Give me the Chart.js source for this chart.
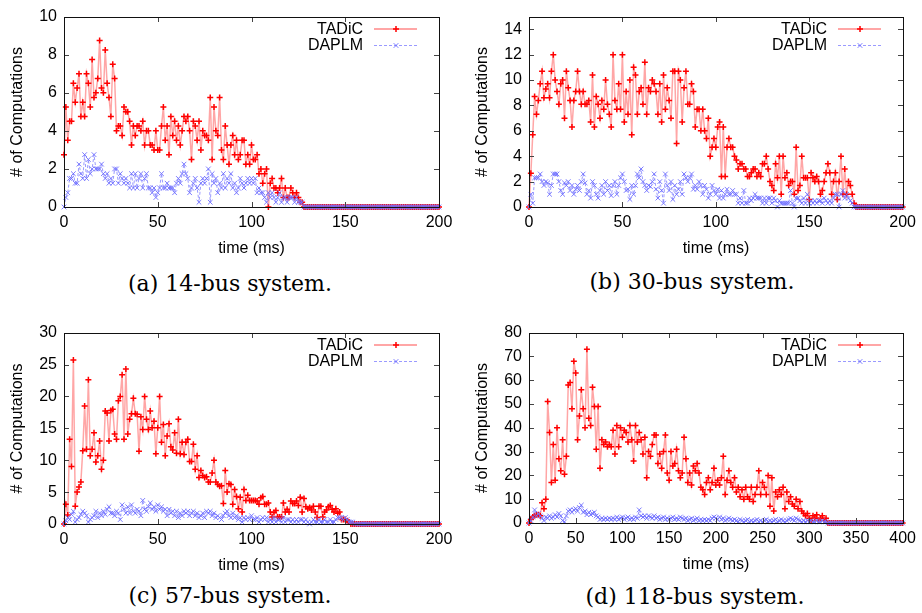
<!DOCTYPE html>
<html><head><meta charset="utf-8">
<script src="https://cdn.jsdelivr.net/npm/chart.js@4.4.1/dist/chart.umd.min.js"></script>
<style>
html,body{margin:0;padding:0;background:#fff;}
#page{position:relative;width:922px;height:613px;overflow:hidden;background:#fff;}
canvas{position:absolute;}
.cap{position:absolute;font-family:"DejaVu Serif",serif;font-size:22px;white-space:nowrap;transform:translate(-50%,-50%);color:#000;line-height:1;}
</style></head><body><div id="page">
<canvas id="ca"></canvas><canvas id="cb"></canvas><canvas id="cc"></canvas><canvas id="cd"></canvas>
<div class="cap" style="left:230px;top:284px">(a) 14-bus system.</div>
<div class="cap" style="left:692px;top:282px">(b) 30-bus system.</div>
<div class="cap" style="left:230px;top:596px">(c) 57-bus system.</div>
<div class="cap" style="left:695px;top:597px">(d) 118-bus system.</div>
</div>
<script>
// ---------------- DATA ----------------
const seriesNames = ["TADiC", "DAPLM"];
const xTitle = "time (ms)";
const yTitle = "# of Computations";
const xTicks200 = [0, 50, 100, 150, 200];
const xTicks400 = [0, 50, 100, 150, 200, 250, 300, 350, 400];
const yTicksA = [0, 2, 4, 6, 8, 10];
const yTicksB = [0, 2, 4, 6, 8, 10, 12, 14];
const yTicksC = [0, 5, 10, 15, 20, 25, 30];
const yTicksD = [0, 10, 20, 30, 40, 50, 60, 70, 80];
// sampling interval (ms) of each panel's series
const stepA = 1, stepB = 1, stepC = 1, stepD = 2;

// (a) 14-bus system, t = 0..200 ms
const tadicA = [
2.75,5.25,3.5,4.5,4.5,6.5,5.5,6.25,7.0,4.75,
5.5,4.75,7.0,6.5,5.25,7.75,5.75,6.0,6.75,8.75,
6.25,6.0,8.25,6.5,5.75,4.75,7.5,6.75,4.0,4.25,
4.25,3.75,5.25,5.0,5.0,4.5,3.25,4.25,3.75,4.25,
4.25,4.0,4.5,3.25,4.0,4.0,3.25,3.25,3.0,4.0,
3.0,3.0,4.25,5.25,3.5,4.25,2.75,4.75,3.75,4.5,
3.5,4.25,3.25,4.0,4.75,4.5,4.75,4.0,2.5,4.5,
4.25,3.5,4.5,3.0,4.0,3.75,3.75,3.5,5.75,2.5,
5.25,4.0,3.75,5.75,3.0,2.5,4.25,3.25,2.25,3.25,
3.75,2.75,3.5,2.5,2.75,3.5,3.5,2.25,2.75,2.25,
3.25,2.5,2.5,2.75,1.75,2.0,1.25,1.75,2.0,0,
1.25,1.5,1.0,1.0,0.75,1.0,1.5,0.5,1.0,0.5,
0.5,1.0,0.75,0.5,0.75,0.5,0.25,0.25,0,0,
0,0,0,0,0,0,0,0,0,0, 0,0,0,0,0,0,0,0,0,0, 0,0,0,0,0,0,0,0,0,0,
0,0,0,0,0,0,0,0,0,0, 0,0,0,0,0,0,0,0,0,0, 0,0,0,0,0,0,0,0,0,0,
0,0,0,0,0,0,0,0,0,0, 0];
const daplmA = [
0,0.5,0.75,1.5,1.5,1.75,1.25,1.25,2.25,1.75,
1.5,2.75,1.5,2.5,1.75,2.0,2.75,2.0,2.0,2.0,
2.25,1.75,1.5,1.75,1.25,1.5,1.25,2.0,2.0,1.25,
1.75,1.5,1.25,1.5,1.25,1.0,1.75,1.0,1.75,1.0,
1.5,1.75,1.0,1.5,1.75,1.0,1.0,0.75,1.0,0.5,
0.75,1.0,1.75,1.0,1.0,1.25,1.0,1.0,1.0,0.75,
1.25,1.5,1.25,1.75,2.25,1.75,1.5,0.75,1.0,1.25,
1.5,1.0,0.25,1.25,1.5,1.25,1.5,2.0,0.25,1.75,
1.25,1.5,0.75,1.25,1.0,1.75,1.0,1.5,1.25,1.75,
1.0,1.25,0.75,1.0,1.5,1.25,1.0,1.25,1.5,1.25,
1.5,1.25,1.5,0.75,1.0,0.75,0.75,0.5,0.25,0.75,
0.5,0.75,0.5,0.25,0.5,0.75,0.25,0.5,0.5,0.25,
0.5,0.5,0.5,0.25,0.5,0.25,0.25,0.25,0,0,
0,0,0,0,0,0,0,0,0,0, 0,0,0,0,0,0,0,0,0,0, 0,0,0,0,0,0,0,0,0,0,
0,0,0,0,0,0,0,0,0,0, 0,0,0,0,0,0,0,0,0,0, 0,0,0,0,0,0,0,0,0,0,
0,0,0,0,0,0,0,0,0,0, 0];

// (b) 30-bus system, t = 0..200 ms
const tadicB = [
0,2.65,5.7,8.7,7.3,8.4,9.7,10.7,8.6,9.3,
9.7,8.6,10.7,12.0,10.0,9.1,8.1,9.7,10.0,7.0,
10.7,9.4,8.4,6.3,8.4,9.1,10.7,9.1,8.1,9.1,
8.1,8.1,8.4,6.7,10.4,6.3,8.7,8.1,7.0,8.4,
7.7,10.0,8.1,7.3,6.3,12.0,8.4,7.7,9.7,7.7,
12.0,6.7,9.1,7.3,10.0,5.7,11.0,10.4,7.3,9.1,
9.4,8.1,11.4,7.3,9.4,9.1,10.0,9.7,9.1,7.3,
9.7,6.7,10.4,7.7,9.4,8.4,7.0,10.7,10.7,5.0,
10.7,10.0,6.7,9.4,10.7,8.1,8.1,9.7,9.1,6.3,
7.7,7.7,6.0,7.7,6.0,5.4,7.0,4.0,4.7,5.4,
4.7,6.3,6.7,2.4,6.3,2.4,4.7,5.4,4.7,4.7,
4.0,3.7,3.0,3.4,3.4,3.0,3.0,2.4,2.4,2.7,
3.0,3.0,2.4,2.7,2.4,3.4,3.4,4.0,3.0,2.0,
1.7,1.3,3.4,2.3,4.0,1.0,4.0,2.3,2.7,1.7,
2.0,2.0,1.0,4.7,1.3,1.7,4.0,2.3,2.3,2.3,
0.6,2.7,2.3,2.0,2.4,2.0,1.0,1.3,2.0,2.7,
3.4,2.7,1.0,2.0,2.7,0.6,2.0,4.0,1.0,3.0,
1.0,2.0,1.7,1.0,0.3,0,0,0,0,0,
0,0,0,0,0,0,0,0,0,0, 0,0,0,0,0,0,0,0,0,0, 0];
const daplmB = [
0,1.0,0.3,2.3,2.3,2.3,2.6,2.0,1.7,2.0,
1.9,1.0,1.7,2.6,2.6,2.6,2.0,1.3,1.0,1.9,
1.7,2.0,1.3,1.7,1.0,1.4,1.7,1.3,2.0,2.6,
1.9,1.0,1.3,0.7,2.0,1.7,1.0,0.7,1.3,1.7,
1.0,2.0,1.3,1.7,0.9,1.7,2.0,1.0,1.7,2.3,
2.6,2.0,1.3,1.4,0.6,1.7,1.0,1.7,2.6,2.3,
3.0,2.0,1.7,1.3,1.7,1.6,2.0,2.6,1.4,0.7,
2.0,1.3,0.3,2.6,1.7,1.3,2.0,0.6,1.7,1.0,
1.4,2.0,1.0,2.6,2.3,2.0,2.3,2.6,1.4,1.7,
1.4,2.0,1.7,1.0,1.7,1.4,0.7,1.0,1.7,1.3,
1.0,1.4,0.7,1.3,0.7,1.0,1.4,1.0,1.0,1.3,
1.0,1.0,0.3,0.7,0.3,1.3,0.3,0.3,0.7,0.5,
0.7,1.0,0.7,0.7,0.7,0.3,0.7,0.3,0.7,0.7,
0.3,0.7,0.5,0.0,0.5,0.3,0.3,0.3,0.3,0.3,
1.3,0.3,0.0,0.7,0.7,0.5,0.3,0.7,0.3,1.0,
0.3,0.5,0.3,0.5,0.3,0.5,0.5,0.3,0.7,0.5,
0.3,0.5,0.3,0.7,1.0,1.0,0.0,1.0,1.3,0.7,
1.0,0.7,0.5,0.3,0,0,0,0,0,0,
0,0,0,0,0,0,0,0,0,0, 0,0,0,0,0,0,0,0,0,0, 0];

// (c) 57-bus system, t = 0..200 ms
const tadicC = [
0,3.1,1.4,13.3,9.0,25.7,2.8,5.0,5.8,6.6,
11.5,18.5,11.7,22.6,10.7,11.7,14.3,9.7,10.7,13.0,
8.6,10.0,17.7,17.4,13.0,17.8,18.0,14.1,13.3,19.3,
20.0,23.4,13.3,24.3,14.1,16.4,17.3,19.7,17.3,17.2,
11.4,16.8,14.8,20.0,16.4,14.8,17.7,15.1,16.1,11.0,
15.1,20.0,12.8,15.6,10.7,13.8,15.7,12.1,11.6,14.3,
11.1,16.4,11.0,12.8,10.9,12.8,13.3,9.8,9.8,12.5,
8.6,10.7,7.3,8.4,7.6,7.3,7.4,6.6,6.6,8.0,
10.0,6.6,6.2,5.9,6.0,3.2,8.4,5.0,6.3,6.2,
3.1,5.4,4.3,2.4,4.2,1.9,5.4,3.7,4.5,3.7,
3.7,3.7,3.7,3.6,3.1,4.1,4.3,3.1,3.1,3.3,
1.9,1.1,1.8,2.1,1.1,1.1,1.1,3.3,1.9,2.3,
1.9,3.6,3.2,3.2,3.6,2.9,4.2,1.9,4.0,2.7,
2.4,2.6,2.2,2.8,1.9,1.0,2.8,2.8,1.1,1.9,
2.2,2.7,2.9,2.3,1.9,2.4,1.7,1.9,0.7,0.7,
0.7,0.5,0.3,0,0,0,0,0,0,0,
0,0,0,0,0,0,0,0,0,0, 0,0,0,0,0,0,0,0,0,0,
0,0,0,0,0,0,0,0,0,0, 0,0,0,0,0,0,0,0,0,0, 0];
const daplmC = [
0,0.5,1.0,0.7,1.5,2.0,0.3,0.7,1.0,1.5,
2.0,1.7,1.3,0.3,0.7,1.0,1.3,2.0,1.0,1.7,
1.3,2.0,1.5,2.3,2.7,1.7,1.7,1.3,2.0,1.7,
0.7,3.0,2.3,1.7,2.7,1.7,3.0,2.0,1.7,2.3,
2.0,1.3,3.7,2.3,2.0,2.7,3.3,2.3,2.7,2.0,
3.0,2.3,2.7,2.0,2.3,1.3,2.3,1.7,2.0,1.3,
2.0,1.0,1.7,1.3,2.0,1.7,2.0,1.3,1.7,2.0,
1.3,1.7,1.0,1.3,1.7,1.0,2.0,1.7,2.0,1.3,
1.7,1.0,1.3,1.0,0.7,1.3,1.7,2.0,1.3,1.0,
1.7,1.0,1.3,0.7,1.0,0.3,1.0,0.7,1.0,0.7,
1.3,0.7,0.7,1.0,0.3,0.7,1.0,0.7,1.0,0.3,
0.7,0.3,1.0,0.3,0.7,0.7,0.3,1.0,0.3,0.7,
0.7,0.3,0.7,0.3,0.7,0.3,0.7,0.7,0.3,0.7,
0.3,0.0,0.3,0.7,0.3,0.3,0.7,0.3,0.3,0.7,
0.3,0.3,0.7,0.3,0.3,0.7,1.0,1.0,1.0,0.7,
1.0,0.7,0.3,0.3,0.3,0,0,0,0,0,
0,0,0,0,0,0,0,0,0,0, 0,0,0,0,0,0,0,0,0,0,
0,0,0,0,0,0,0,0,0,0, 0,0,0,0,0,0,0,0,0,0, 0];

// (d) 118-bus system, t = 0..400 ms (2 ms samples)
const tadicD = [
0,1.5,2.5,3,3.5,3.5,3,8.5,6,10,
51,38,17,33,18,40,27,22,35,20.5,
28,58,59,48,68,63,35,45,56,48,
40,73,44,41,57,49,31,49,23,35,
33,34,32,33,32,39,29,41,32,40,
36,39,38,34,41,35,26,41,34,38,
35,29,36,19,30,28,33,37,37,25,
29,23,30,37,21,18,30,24,25,31,
22,19,21,36,27,17,21,16,24,22,
25,21,15,14,12,17,19,14,17,23,
16,18,16,19,28,12,18,22,17,15,
19,13,15,11,14,10,15,11,10,15,
9,12,15,22,12,17,15,12,20,7,
19,5,13,11,14,12,15,6,13,9,
11,8,7,10,6,9,5,4,3,4,
2,1,3,2,3.5,1,2,3,1,2,
0,0,0,0,0,0,0,0,0,0, 0,0,0,0,0,0,0,0,0,0,
0,0,0,0,0,0,0,0,0,0, 0,0,0,0,0,0,0,0,0,0, 0];
const daplmD = [
0,1,2.5,5.5,3,4,3,2,1,2.5,
2,3,2,2.5,3.5,2.5,4,3,1,0.5,
3,5,5.5,4.5,5.5,6,5,6.5,7.5,4.5,
5,3.5,4.5,3.5,4,4.5,3,2.5,1.5,2,
1.5,2,1.5,2,1.5,2,1.5,2.5,1.5,2,
2.5,1.5,2,2.5,1.5,2,1.5,2.5,2,5.5,
3,2.5,3,2,3,2.5,2,3,2,2.5,
1.5,2,2.5,1.5,2,1.5,2,2.5,1.5,2,
1.5,2.5,2,1.5,2,1,1.5,2,1,1.5,
2,1,1.5,1,1.5,1,1.5,1,2,2.5,
2,1.5,2.5,1.5,2,1,1.5,2,1.5,1,
1.5,1,0.5,1.5,1,0.5,1,1.5,0.5,1,
0.5,1,1.5,0.5,1,0.5,1,1.5,0.5,1,
0.5,1,1.5,0.5,1,1.5,1,0.5,1,1.5,
2,1.5,1,2,1.5,1,0.5,1,0.5,1,
0.5,1,0.5,0.5,1,0.5,0.5,1,0.5,0.5,
0,0,0,0,0,0,0,0,0,0, 0,0,0,0,0,0,0,0,0,0,
0,0,0,0,0,0,0,0,0,0, 0,0,0,0,0,0,0,0,0,0, 0];

// ---------------- STYLE ----------------
const FONT = '"Liberation Sans", Arial, sans-serif';
const styleT = {
  borderColor: 'rgba(255,150,150,0.85)', borderWidth: 1.5,
  pointStyle: 'cross', pointRadius: 3, pointBorderWidth: 1.5,
  pointBorderColor: '#ff0000', pointBackgroundColor: '#ff0000',
  tension: 0, fill: false, order: 2, clip: false
};
const styleD = {
  borderColor: 'rgba(120,120,255,0.75)', borderWidth: 1, borderDash: [3, 2],
  pointStyle: 'crossRot', pointRadius: 3.3, pointBorderWidth: 1,
  pointBorderColor: 'rgba(110,110,255,0.9)', pointBackgroundColor: 'rgba(110,110,255,0.9)',
  tension: 0, fill: false, order: 1, clip: false
};

function drawMarker(ctx, style, x, y, r, color, lw) {
  ctx.save();
  ctx.strokeStyle = color; ctx.lineWidth = lw;
  ctx.beginPath();
  if (style === 'cross') {
    ctx.moveTo(x - r, y); ctx.lineTo(x + r, y);
    ctx.moveTo(x, y - r); ctx.lineTo(x, y + r);
  } else {
    const d = r * Math.SQRT1_2;
    ctx.moveTo(x - d, y - d); ctx.lineTo(x + d, y + d);
    ctx.moveTo(x - d, y + d); ctx.lineTo(x + d, y - d);
  }
  ctx.stroke();
  ctx.restore();
}

const gnuFrame = {
  id: 'gnuFrame',
  afterDraw(chart) {
    const ctx = chart.ctx, a = chart.chartArea;
    const xs = chart.scales.x, ys = chart.scales.y;
    const L = Math.round(a.left), R = Math.round(a.right), T = Math.round(a.top), B = Math.round(a.bottom);
    ctx.save();
    // inward ticks on all four sides
    ctx.strokeStyle = '#444'; ctx.lineWidth = 1;
    ctx.beginPath();
    xs.ticks.forEach(t => {
      const p = Math.round(xs.getPixelForValue(t.value)) + 0.5;
      ctx.moveTo(p, B); ctx.lineTo(p, B - 5);
      ctx.moveTo(p, T); ctx.lineTo(p, T + 5);
    });
    ys.ticks.forEach(t => {
      const p = Math.round(ys.getPixelForValue(t.value)) + 0.5;
      ctx.moveTo(L, p); ctx.lineTo(L + 5, p);
      ctx.moveTo(R, p); ctx.lineTo(R - 5, p);
    });
    ctx.stroke();
    // border
    ctx.strokeStyle = '#111'; ctx.lineWidth = 1;
    ctx.strokeRect(L + 0.5, T + 0.5, R - L, B - T);
    // axis titles
    ctx.fillStyle = '#000';
    ctx.font = '16px ' + FONT;
    ctx.textAlign = 'center'; ctx.textBaseline = 'middle';
    ctx.fillText(xTitle, (L + R) / 2, B + 42);
    ctx.save();
    ctx.translate(L - 46, (T + B) / 2);
    ctx.rotate(-Math.PI / 2);
    ctx.fillText(yTitle, 0, 0);
    ctx.restore();
    // legend (text left of sample, gnuplot style)
    const rows = [T + 11.5, T + 28];
    chart.data.datasets.forEach((ds, i) => {
      const y = rows[i];
      ctx.textAlign = 'right';
      ctx.fillStyle = '#000';
      ctx.fillText(ds.label, R - 76, y + 1);
      ctx.save();
      ctx.strokeStyle = ds.borderColor; ctx.lineWidth = i === 0 ? 2 : 1;
      ctx.setLineDash(ds.borderDash || []);
      ctx.beginPath(); ctx.moveTo(R - 65, y + 0.5); ctx.lineTo(R - 22, y + 0.5); ctx.stroke();
      ctx.restore();
      drawMarker(ctx, ds.pointStyle, R - 43, y + 0.5, ds.pointRadius, ds.pointBorderColor, ds.pointBorderWidth);
    });
    ctx.restore();
  }
};

function makePanel(id, p) {
  const cv = document.getElementById(id);
  cv.width = p.W; cv.height = p.H;
  cv.style.left = p.cx + 'px'; cv.style.top = p.cy + 'px';
  cv.style.width = p.W + 'px'; cv.style.height = p.H + 'px';
  const pts = (arr) => arr.map((v, i) => ({ x: i * p.step, y: v }));
  const tickFont = { family: FONT, size: 16 };
  new Chart(cv, {
    type: 'line',
    data: {
      datasets: [
        Object.assign({ label: seriesNames[0], data: pts(p.t) }, styleT),
        Object.assign({ label: seriesNames[1], data: pts(p.d) }, styleD)
      ]
    },
    options: {
      responsive: false, animation: false, devicePixelRatio: 1,
      layout: { padding: { left: 0, top: p.T - p.cy, right: p.cx + p.W - p.R, bottom: 0 } },
      plugins: { legend: { display: false }, tooltip: { enabled: false } },
      scales: {
        x: {
          type: 'linear', min: p.xt[0], max: p.xt[p.xt.length - 1],
          afterBuildTicks: s => { s.ticks = p.xt.map(v => ({ value: v })); },
          afterFit: s => { s.height = p.cy + p.H - p.B; },
          grid: { display: false, drawTicks: false }, border: { display: false },
          ticks: { autoSkip: false, maxRotation: 0, minRotation: 0, padding: 6, color: '#000', font: tickFont }
        },
        y: {
          type: 'linear', min: 0, max: p.ymax,
          afterBuildTicks: s => { s.ticks = p.yt.map(v => ({ value: v })); },
          afterFit: s => { s.width = p.L - p.cx; },
          grid: { display: false, drawTicks: false }, border: { display: false },
          ticks: { autoSkip: false, padding: 7, color: '#000', font: tickFont }
        }
      }
    },
    plugins: [gnuFrame]
  });
}

makePanel('ca', { cx: 0,   cy: 0,   W: 461, H: 262, L: 64,  R: 439, T: 15,  B: 207, t: tadicA, d: daplmA, step: stepA, xt: xTicks200, yt: yTicksA, ymax: 10 });
makePanel('cb', { cx: 461, cy: 0,   W: 461, H: 262, L: 529, R: 903, T: 15,  B: 207, t: tadicB, d: daplmB, step: stepB, xt: xTicks200, yt: yTicksB, ymax: 15 });
makePanel('cc', { cx: 0,   cy: 316, W: 461, H: 262, L: 64,  R: 439, T: 331, B: 524, t: tadicC, d: daplmC, step: stepC, xt: xTicks200, yt: yTicksC, ymax: 30 });
makePanel('cd', { cx: 461, cy: 316, W: 461, H: 262, L: 529, R: 903, T: 332, B: 523, t: tadicD, d: daplmD, step: stepD, xt: xTicks400, yt: yTicksD, ymax: 80 });
</script>
</body></html>
